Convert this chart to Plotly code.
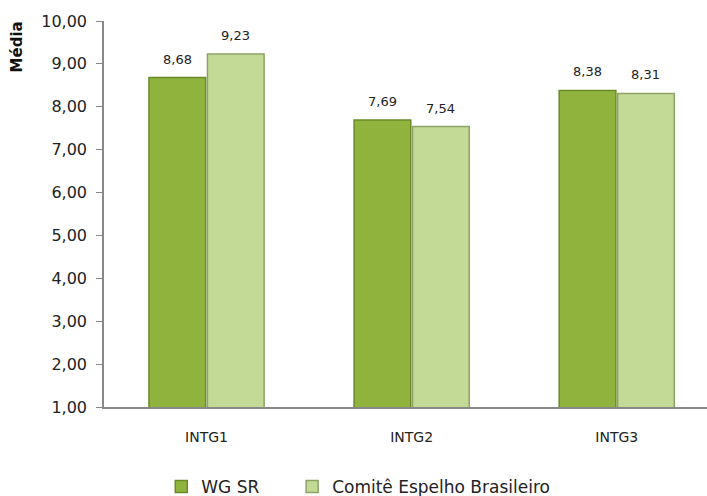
import plotly.graph_objects as go

categories = ["INTG1", "INTG2", "INTG3"]
wg_sr = [8.68, 7.69, 8.38]
comite = [9.23, 7.54, 8.31]
y_ticks = [1, 2, 3, 4, 5, 6, 7, 8, 9, 10]

font_family = "DejaVu Sans, Verdana, sans-serif"


def fmt(v):
    return f"{v:.2f}".replace(".", ",")


fig = go.Figure()
fig.add_trace(go.Bar(
    name="WG SR", x=categories, y=wg_sr, legend="legend",
    marker=dict(color="#8fb33c", line=dict(color="#6a8a2a", width=1.5)),
))
fig.add_trace(go.Bar(
    name="Comitê Espelho Brasileiro", x=categories, y=comite, legend="legend2",
    marker=dict(color="#c3da96", line=dict(color="#8fa266", width=1.5)),
))

# value labels above each bar of the grouped pair
annotations = []
for series, shift in ((wg_sr, -29), (comite, 29)):
    for cat, v in zip(categories, series):
        annotations.append(dict(
            x=cat, y=v, xref="x", yref="y", text=fmt(v), showarrow=False,
            xshift=shift, yanchor="bottom", yshift=9,
            font=dict(size=13, color="#222"),
        ))

annotations.append(dict(
    text="<b>Média</b>", textangle=-90, xref="paper", yref="paper",
    x=-0.145, y=0.933, xanchor="center", yanchor="middle",
    showarrow=False, font=dict(size=15, color="#111"),
))

legend_common = dict(orientation="h", xanchor="left", yref="container",
                     y=9 / 496, yanchor="middle", font=dict(size=17),
                     bgcolor="rgba(0,0,0,0)")

fig.update_layout(
    width=707, height=496,
    paper_bgcolor="white", plot_bgcolor="white",
    separators=",.",
    barmode="group", bargap=0.43, bargroupgap=0.03,
    margin=dict(l=104, r=0, t=21, b=89, autoexpand=False),
    font=dict(family=font_family, size=14, color="#222"),
    showlegend=True,
    legend=dict(x=0.095, **legend_common),
    legend2=dict(x=0.312, **legend_common),
    xaxis=dict(range=[-0.5, 2.44], showline=True, linecolor="#888", linewidth=1.5,
               ticks="", tickfont=dict(size=14), showgrid=False,
               ticklabelstandoff=16),
    yaxis=dict(range=[1, 10], tickvals=y_ticks, tickformat=".2f",
               showline=True, linecolor="#888", linewidth=1.5,
               ticks="outside", ticklen=6, tickcolor="#888", showgrid=False,
               zeroline=False, tickfont=dict(size=16), ticklabelstandoff=6),
    annotations=annotations,
)

fig.write_html("out.html")
